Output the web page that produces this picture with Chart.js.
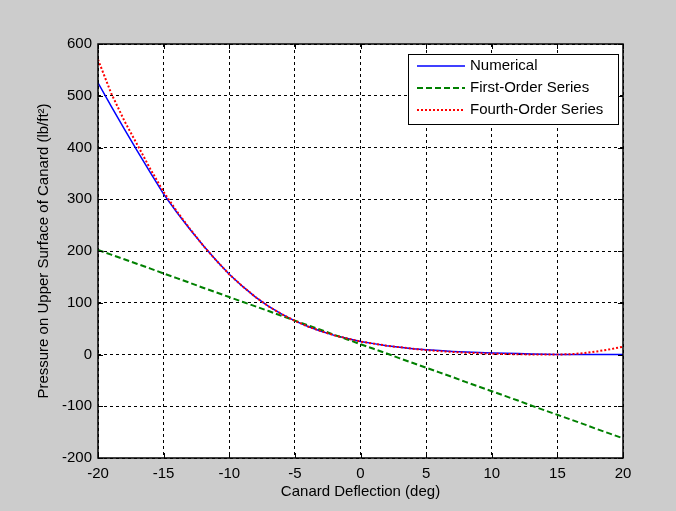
<!DOCTYPE html>
<html>
<head>
<meta charset="utf-8">
<script src="https://cdn.jsdelivr.net/npm/chart.js@4.4.0/dist/chart.umd.min.js"></script>
<style>
    body { margin: 0; background: #cccccc; }
    canvas { display: block; }
</style>
</head>
<body>
<canvas id="chart" width="676" height="511"></canvas>
<script>
// canard deflection in degrees
const deflection = [-20, -19, -18, -17, -16, -15, -14, -13, -12, -11, -10, -9, -8, -7, -6, -5, -4, -3, -2, -1,
    0, 1, 2, 3, 4, 5, 6, 7, 8, 9, 10, 11, 12, 13, 14, 15, 16, 17, 18, 19, 20];

// pressure values (lb/ft^2)
const numerical = [525, 480, 436, 393, 351, 310, 275, 242, 211, 182, 155, 132, 111, 93, 78, 65, 54, 45, 37, 31,
    25, 21, 17, 14, 11, 9, 7.5, 6, 5, 4, 3, 2.5, 2, 1.2, 0.6, 0.2, 0, 0, 0, 0, 0];
const firstOrder = [202, 193, 184, 175, 166, 156.5, 147.5, 138.5, 129, 120, 111, 102, 93, 84, 74.5, 65.5, 56.5, 47.5, 38, 29,
    20, 11, 2, -7.5, -16.5, -25.5, -34.5, -43.5, -53, -62, -71, -80, -89, -98.5, -107.5, -116.5, -125.5, -134.5, -144, -153, -162];
const fourthOrder = [570, 505, 452, 405, 358, 314, 277, 243, 211, 182, 155, 132, 111, 93, 78, 65, 54, 45, 37, 31,
    25, 21, 17, 14, 11, 8.5, 6.5, 5, 3.5, 2.5, 1.5, 1, 0.5, 0, 0, 0, 0.5, 2.5, 6, 10, 15];

const xTicks = [-20, -15, -10, -5, 0, 5, 10, 15, 20];
const yTicks = [-200, -100, 0, 100, 200, 300, 400, 500, 600];

const FONT = "'Liberation Sans', Arial, sans-serif";

function points(ys) {
    return deflection.map((x, i) => ({ x: x, y: ys[i] }));
}

// gray figure, white axes, box with inward ticks, boxed legend
const matlabFrame = {
    id: "matlabFrame",
    beforeDraw(chart) {
        const { ctx, chartArea: a } = chart;
        ctx.save();
        ctx.fillStyle = "#cccccc";
        ctx.fillRect(0, 0, chart.width, chart.height);
        ctx.fillStyle = "#ffffff";
        ctx.fillRect(a.left, a.top, a.right - a.left, a.bottom - a.top);
        ctx.restore();
    },
    afterDraw(chart) {
        const { ctx, chartArea: a, scales } = chart;
        ctx.save();
        ctx.strokeStyle = "#000";
        ctx.lineWidth = 1;
        ctx.setLineDash([]);

        // tick marks pointing inward on all four sides
        const len = 5;
        ctx.beginPath();
        xTicks.forEach(v => {
            const px = Math.round(scales.x.getPixelForValue(v)) + 0.5;
            ctx.moveTo(px, a.bottom); ctx.lineTo(px, a.bottom - len);
            ctx.moveTo(px, a.top); ctx.lineTo(px, a.top + len);
        });
        yTicks.forEach(v => {
            const py = Math.round(scales.y.getPixelForValue(v)) + 0.5;
            ctx.moveTo(a.left, py); ctx.lineTo(a.left + len, py);
            ctx.moveTo(a.right, py); ctx.lineTo(a.right - len, py);
        });
        ctx.stroke();

        ctx.lineWidth = 1.5;
        ctx.strokeRect(a.left, a.top, a.right - a.left, a.bottom - a.top);

        // legend
        const lx = 408.5, ly = 54.5, lw = 210, lh = 70;
        ctx.fillStyle = "#ffffff";
        ctx.fillRect(lx, ly, lw, lh);
        ctx.lineWidth = 1;
        ctx.strokeRect(lx, ly, lw, lh);

        ctx.font = "15px " + FONT;
        ctx.textBaseline = "middle";
        ctx.textAlign = "left";
        chart.data.datasets.forEach((ds, i) => {
            const y = 66 + i * 22;
            ctx.beginPath();
            ctx.strokeStyle = ds.borderColor;
            ctx.lineWidth = ds.borderWidth;
            ctx.setLineDash(ds.borderDash || []);
            ctx.moveTo(417, y);
            ctx.lineTo(465, y);
            ctx.stroke();
            ctx.fillStyle = "#000";
            ctx.fillText(ds.label, 470, y);
        });
        ctx.restore();
    }
};

new Chart(document.getElementById("chart"), {
    type: "line",
    data: {
        datasets: [
            {
                label: "Numerical",
                data: points(numerical),
                borderColor: "#0000ff",
                borderWidth: 1.5,
                order: 3
            },
            {
                label: "First-Order Series",
                data: points(firstOrder),
                borderColor: "#008000",
                borderWidth: 2,
                borderDash: [6, 3],
                order: 2
            },
            {
                label: "Fourth-Order Series",
                data: points(fourthOrder),
                borderColor: "#ff0000",
                borderWidth: 2,
                borderDash: [2, 2],
                order: 1
            }
        ]
    },
    options: {
        responsive: false,
        animation: false,
        layout: { padding: { left: 0, top: 44, right: 53, bottom: 0 } },
        elements: { point: { radius: 0 }, line: { tension: 0, fill: false } },
        plugins: { legend: { display: false }, tooltip: { enabled: false } },
        scales: {
            x: {
                type: "linear",
                min: -20,
                max: 20,
                afterBuildTicks: s => { s.ticks = xTicks.map(v => ({ value: v })); },
                afterFit: s => { s.height = 53; },
                grid: { color: "#000", lineWidth: 1, drawTicks: false },
                border: { display: false, dash: [3, 3] },
                ticks: { color: "#000", font: { family: FONT, size: 15 }, padding: 7, maxRotation: 0 },
                title: {
                    display: true,
                    text: "Canard Deflection (deg)",
                    color: "#000",
                    font: { family: FONT, size: 15 },
                    padding: { top: 0, bottom: 10 }
                }
            },
            y: {
                type: "linear",
                min: -200,
                max: 600,
                afterBuildTicks: s => { s.ticks = yTicks.map(v => ({ value: v })); },
                afterFit: s => { s.width = 98; },
                grid: { color: "#000", lineWidth: 1, drawTicks: false },
                border: { display: false, dash: [3, 3] },
                ticks: { color: "#000", font: { family: FONT, size: 15 }, padding: 6 },
                title: {
                    display: true,
                    text: "Pressure on Upper Surface of Canard (lb/ft²)",
                    color: "#000",
                    font: { family: FONT, size: 15 },
                    padding: { top: 35, bottom: 0 }
                }
            }
        }
    },
    plugins: [matlabFrame]
});
</script>
</body>
</html>
